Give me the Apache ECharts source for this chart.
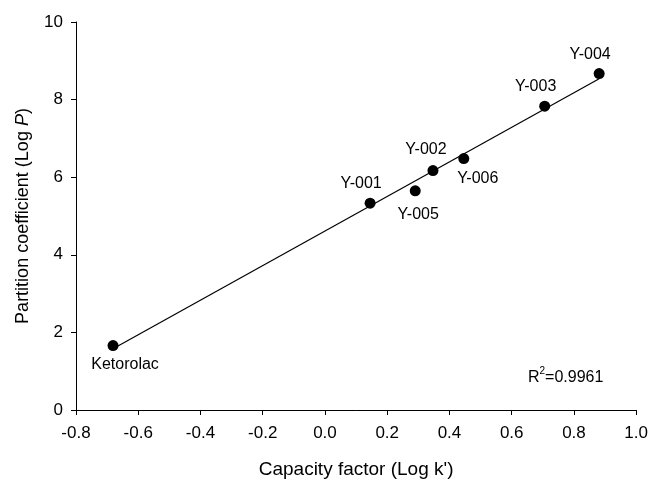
<!DOCTYPE html>
<html>
<head>
<meta charset="utf-8">
<script src="https://cdn.jsdelivr.net/npm/echarts@6/dist/echarts.min.js"></script>
<style>
  html, body { margin: 0; padding: 0; background: #fff; }
  #chart { width: 651px; height: 484px; }
</style>
</head>
<body>
<div id="chart"></div>
<script>
// Compounds, capacity factor (log k') and partition coefficient (log P)
const compounds = ['Ketorolac', 'Y-001', 'Y-005', 'Y-002', 'Y-006', 'Y-003', 'Y-004'];
const logK = [-0.681, 0.145, 0.290, 0.347, 0.446, 0.706, 0.881];
const logP = [1.66, 5.33, 5.65, 6.17, 6.48, 7.83, 8.67];
const rSquared = '0.9961';

// Label placement around each dot (pixels)
const labelOffsets = {
  'Ketorolac': [12, 19],
  'Y-001': [-9, -20],
  'Y-005': [3, 24],
  'Y-002': [-7, -21],
  'Y-006': [14, 20],
  'Y-003': [-9, -20],
  'Y-004': [-9, -19]
};

// Least-squares regression line spanning the measured range
const n = logK.length;
const mx = logK.reduce((a, b) => a + b, 0) / n;
const my = logP.reduce((a, b) => a + b, 0) / n;
let sxy = 0, sxx = 0;
for (let i = 0; i < n; i++) {
  sxy += (logK[i] - mx) * (logP[i] - my);
  sxx += (logK[i] - mx) * (logK[i] - mx);
}
const slope = sxy / sxx;
const intercept = my - slope * mx;
const xMin = Math.min(...logK), xMax = Math.max(...logK);
const fitLine = [[xMin, intercept + slope * xMin], [xMax, intercept + slope * xMax]];

const FONT = '"Liberation Sans", Arial, sans-serif';

const chart = echarts.init(document.getElementById('chart'), null, { renderer: 'canvas' });
chart.setOption({
  animation: false,
  backgroundColor: '#fff',
  textStyle: { fontFamily: FONT, color: '#000' },
  grid: { left: 76, right: 12, top: 22, bottom: 64, containLabel: false },
  xAxis: {
    type: 'value',
    min: -0.8, max: 1.0, interval: 0.2,
    name: "Capacity factor (Log k')",
    nameLocation: 'middle',
    nameGap: 50,
    nameTextStyle: { fontFamily: FONT, fontSize: 19, color: '#000' },
    axisLine: { show: true, onZero: false, lineStyle: { color: '#000', width: 1 } },
    axisTick: { show: true, inside: false, length: 5, lineStyle: { color: '#000' } },
    axisLabel: { fontFamily: FONT, fontSize: 17, color: '#000', margin: 15,
      formatter: v => v.toFixed(1) },
    splitLine: { show: false }
  },
  yAxis: {
    type: 'value',
    min: 0, max: 10, interval: 2,
    name: '{n|Partition coefficient (Log }{i|P}{n|)}',
    nameLocation: 'middle',
    nameGap: 44,
    nameRotate: 90,
    nameTextStyle: {
      fontFamily: FONT, fontSize: 18, color: '#000',
      rich: {
        n: { fontFamily: FONT, fontSize: 18, color: '#000' },
        i: { fontFamily: FONT, fontSize: 18, color: '#000', fontStyle: 'italic' }
      }
    },
    axisLine: { show: true, onZero: false, lineStyle: { color: '#000', width: 1 } },
    axisTick: { show: true, inside: false, length: 5, lineStyle: { color: '#000' } },
    axisLabel: { fontFamily: FONT, fontSize: 17, color: '#000', margin: 13 },
    splitLine: { show: false }
  },
  series: [
    {
      type: 'line',
      data: fitLine,
      symbol: 'none',
      lineStyle: { color: '#000', width: 1.2 },
      silent: true,
      z: 1
    },
    {
      type: 'scatter',
      symbol: 'circle',
      symbolSize: 11,
      itemStyle: { color: '#000', opacity: 1 },
      z: 2,
      data: compounds.map((name, i) => ({
        name: name,
        value: [logK[i], logP[i]],
        label: {
          show: true,
          position: 'inside',
          offset: labelOffsets[name],
          formatter: '{b}',
          fontFamily: FONT,
          fontSize: 16,
          color: '#000',
          textBorderWidth: 0
        }
      }))
    }
  ],
  graphic: [
    {
      type: 'text',
      left: 528,
      top: 366,
      style: {
        text: '{a|R}{s|2}{a|=' + rSquared + '}',
        rich: {
          a: { fontFamily: FONT, fontSize: 16, fill: '#000', verticalAlign: 'bottom', lineHeight: 20 },
          s: { fontFamily: FONT, fontSize: 10, fill: '#000', verticalAlign: 'top', padding: [0, 0, 9, 0] }
        }
      }
    }
  ]
});
</script>
</body>
</html>
